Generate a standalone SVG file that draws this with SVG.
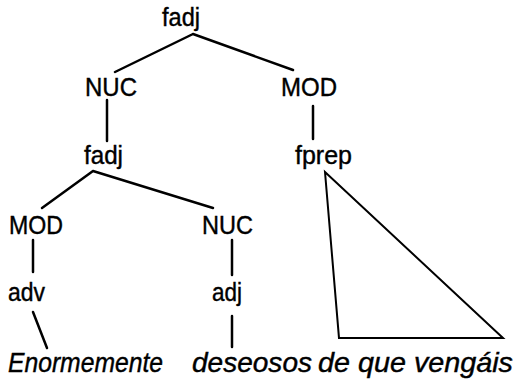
<svg xmlns="http://www.w3.org/2000/svg" width="514" height="381" viewBox="0 0 514 381">
<style>
text{font-family:"Liberation Sans",Arial,sans-serif;font-size:25px;fill:#000;stroke:#000;stroke-width:0.4}
.w{font-style:italic;font-size:27px}
.e{stroke:#000;stroke-width:2.5;fill:none;stroke-linecap:round}
.t{stroke:#000;stroke-width:2;fill:none;stroke-linejoin:miter}
</style>
<rect width="514" height="381" fill="#fff"/>
<g id="connectors">
<path class="e" d="M193,34 L115,72 M193,34 L293,70"/>
<path class="e" d="M107,100 L107,141"/>
<path class="e" d="M313,106 L313,139"/>
<path class="e" d="M93,171 L42,208 M93,171 L213,208"/>
<path class="e" d="M33,240 L33,272"/>
<path class="e" d="M232,240 L232,275"/>
<path class="e" d="M33,312 L47,348"/>
<path class="e" d="M232,316 L232,347"/>
<polygon class="t" points="325,172 339,338 503,338"/>
</g>
<g id="n-fadj-root"><text x="162" y="26" textLength="38" lengthAdjust="spacingAndGlyphs">fadj</text></g>
<g id="n-nuc1"><text x="85" y="96" textLength="52" lengthAdjust="spacingAndGlyphs">NUC</text></g>
<g id="n-mod1"><text x="281" y="96" textLength="56" lengthAdjust="spacingAndGlyphs">MOD</text></g>
<g id="n-fadj2"><text x="84" y="164" textLength="39" lengthAdjust="spacingAndGlyphs">fadj</text></g>
<g id="n-fprep"><text x="295" y="164" textLength="57" lengthAdjust="spacingAndGlyphs">fprep</text></g>
<g id="n-mod2"><text x="9" y="234" textLength="54" lengthAdjust="spacingAndGlyphs">MOD</text></g>
<g id="n-nuc2"><text x="202" y="234" textLength="51" lengthAdjust="spacingAndGlyphs">NUC</text></g>
<g id="n-adv"><text x="8" y="301" textLength="37" lengthAdjust="spacingAndGlyphs">adv</text></g>
<g id="n-adj"><text x="212" y="301" textLength="30" lengthAdjust="spacingAndGlyphs">adj</text></g>
<g id="w-enormemente"><text class="w" x="8" y="372" textLength="155" lengthAdjust="spacingAndGlyphs">Enormemente</text></g>
<g id="w-deseosos"><text class="w" x="192" y="372" textLength="120" lengthAdjust="spacingAndGlyphs">deseosos</text></g>
<g id="w-dequevengais"><text class="w" x="318" y="372" textLength="195" lengthAdjust="spacingAndGlyphs">de que vengáis</text></g>
</svg>
